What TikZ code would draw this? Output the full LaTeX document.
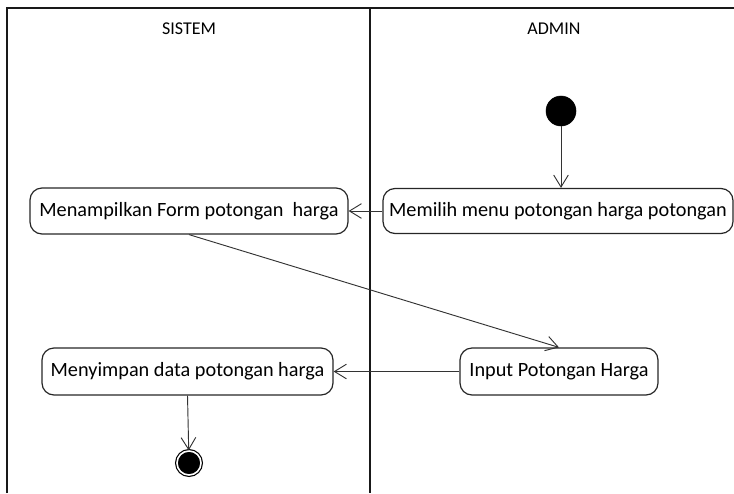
\documentclass[tikz,border=0pt]{standalone}
\usepackage{fontspec}
\setmainfont{Carlito}
\usetikzlibrary{arrows.meta}
\begin{document}
\begin{tikzpicture}[x=0.75pt,y=-0.75pt,
  lane/.style={line width=1.6pt,draw=black!90},
  action/.style={draw=black!85,line width=0.9pt,rounded corners=9pt,
    align=center,inner sep=0pt,font=\fontsize{15.2pt}{17pt}\selectfont},
  flow/.style={draw=black!80,line width=0.7pt,
    -{Straight Barb[length=9pt,width=11pt,line width=0.7pt]}},
  lanetitle/.style={font=\fontsize{13.5pt}{15pt}\selectfont},
  startnode/.style={circle,fill=black,draw=black,minimum size=22.5pt,inner sep=0pt},
  endnode/.style={circle,draw=black,line width=0.9pt,fill=black,
    double=white,double distance=1.2pt,minimum size=18pt,inner sep=0pt}]
  \useasboundingbox (0,0) rectangle (734,493);

  % swimlane frame
  \coordinate (tl) at (7,8);
  \coordinate (tr) at (734,8);
  \coordinate (bl) at (7,493);
  \coordinate (mt) at (370,8);
  \coordinate (mb) at (370,493);
  \draw[lane] (bl) -- (tl) -- (tr);
  \draw[lane] (mt) -- (mb);
  \node[lanetitle] (sistem) at (189,29) {SISTEM};
  \node[lanetitle] (admin) at (554,29) {ADMIN};

  % actions
  \node[startnode] (start) at (561,111) {};
  \node[action,minimum width=262.5pt,minimum height=33.75pt] (memilih) at (558,211)
    {Memilih menu potongan harga potongan};
  \node[action,minimum width=238.5pt,minimum height=34.5pt] (tampil) at (189,211)
    {Menampilkan Form potongan~~harga};
  \node[action,minimum width=148.5pt,minimum height=35.25pt] (input) at (559,371.5)
    {Input Potongan Harga};
  \node[action,minimum width=218.25pt,minimum height=35.25pt] (simpan) at (187.5,371.5)
    {Menyimpan data potongan harga};
  \node[endnode] (end) at (189,463) {};

  % control flow
  \draw[flow] (start) -- (start |- memilih.north);
  \draw[flow] (memilih.west) -- (tampil.east);
  \draw[flow] (tampil.south) -- (input.north);
  \draw[flow] (input.west) -- (simpan.east);
  \draw[flow] (simpan.south) -- (end);
\end{tikzpicture}
\end{document}
